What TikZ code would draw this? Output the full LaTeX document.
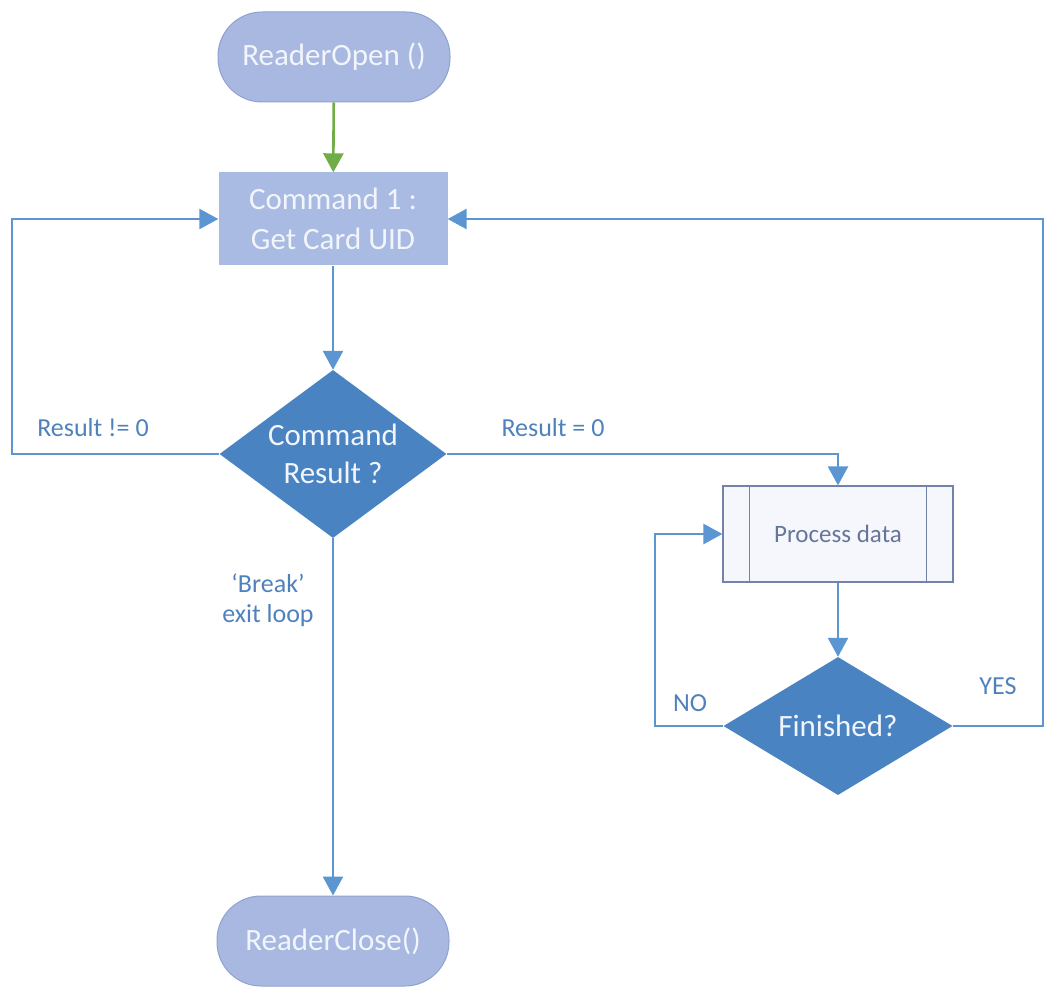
\documentclass[tikz,border=0pt]{standalone}
\usepackage{fontspec}
\setmainfont{Carlito}
\usetikzlibrary{shapes.geometric,arrows.meta}
\definecolor{termfill}{HTML}{A8B8E0}
\definecolor{termline}{HTML}{8FA2D0}
\definecolor{cmdfill}{HTML}{A9BBE3}
\definecolor{diafill}{HTML}{4A83C2}
\definecolor{flowline}{HTML}{5B95D2}
\definecolor{greenline}{HTML}{70AD47}
\definecolor{labeltext}{HTML}{4F81BD}
\definecolor{procfill}{HTML}{F5F7FD}
\definecolor{procline}{HTML}{7282A8}
\definecolor{lighttext}{HTML}{F2F5FC}
\tikzset{
  term/.style={rectangle, rounded corners=44pt, fill=termfill, draw=termline, line width=1pt,
    minimum width=232pt, minimum height=90pt, inner sep=0pt, text=lighttext,
    font=\fontsize{31}{36}\selectfont},
  cmdbox/.style={rectangle, fill=cmdfill, minimum width=229pt, minimum height=93pt,
    inner sep=0pt, text=lighttext, align=center, font=\fontsize{31}{40}\selectfont},
  dia/.style={diamond, fill=diafill, minimum width=227pt, minimum height=168pt, inner sep=0pt},
  diatext/.style={text=lighttext, align=center, font=\fontsize{31}{38}\selectfont},
  procbox/.style={rectangle, fill=procfill, draw=procline, line width=1.2pt,
    minimum width=230pt, minimum height=96pt, inner sep=0pt, text=procline!90!black,
    font=\fontsize{25}{30}\selectfont},
  flow/.style={draw=flowline, line width=2.6pt, -{Triangle[width=20pt,length=19pt]}},
  gflow/.style={draw=greenline, line width=2.6pt, -{Triangle[width=20pt,length=19pt]}},
  lbl/.style={text=labeltext, align=center, font=\fontsize{26}{30}\selectfont},
}
\begin{document}
\begin{tikzpicture}[x=1pt,y=-1pt]
\useasboundingbox (0,0) rectangle (1045,987);
\node[term] (open) at (334,57) {ReaderOpen ()};
\node[cmdbox] (cmd) at (333,219) {Command 1 :\\Get Card UID};
\node[dia] (d1) at (333,454) {};
\node[diatext] (d1t) at (d1) {Command\\Result ?};
\node[procbox] (proc) at (838,534) {Process data};
\draw[procline, line width=1.2pt] ([xshift=27pt]proc.north west) -- ([xshift=27pt]proc.south west);
\draw[procline, line width=1.2pt] ([xshift=-27pt]proc.north east) -- ([xshift=-27pt]proc.south east);
\node[dia, minimum width=229pt, minimum height=138pt] (d2) at (838,726) {};
\node[diatext] (d2t) at (d2) {Finished?};
\node[term] (close) at (333,941) {ReaderClose()};

\coordinate (lft) at (12,454);
\coordinate (nol) at (655,726);
\coordinate (yesr) at (1043,726);

\draw[gflow] (open) -- (cmd);
\draw[flow] (cmd) -- (d1);
\draw[flow] (d1.west) -- (lft) |- (cmd.west);
\draw[flow] (d1.east) -| (proc.north);
\draw[flow] (proc) -- (d2);
\draw[flow] (d2.west) -- (nol) |- (proc.west);
\draw[flow] (d2.east) -- (yesr) |- (cmd.east);
\draw[flow] (d1.south) -- (close.north);

\node[lbl] (l1) at (93,428) {Result != 0};
\node[lbl] (l2) at (553,428) {Result = 0};
\node[lbl] (l3) at (268,600) {‘Break’\\exit loop};
\node[lbl] (l4) at (690,703) {NO};
\node[lbl] (l5) at (998,686) {YES};
\end{tikzpicture}
\end{document}
